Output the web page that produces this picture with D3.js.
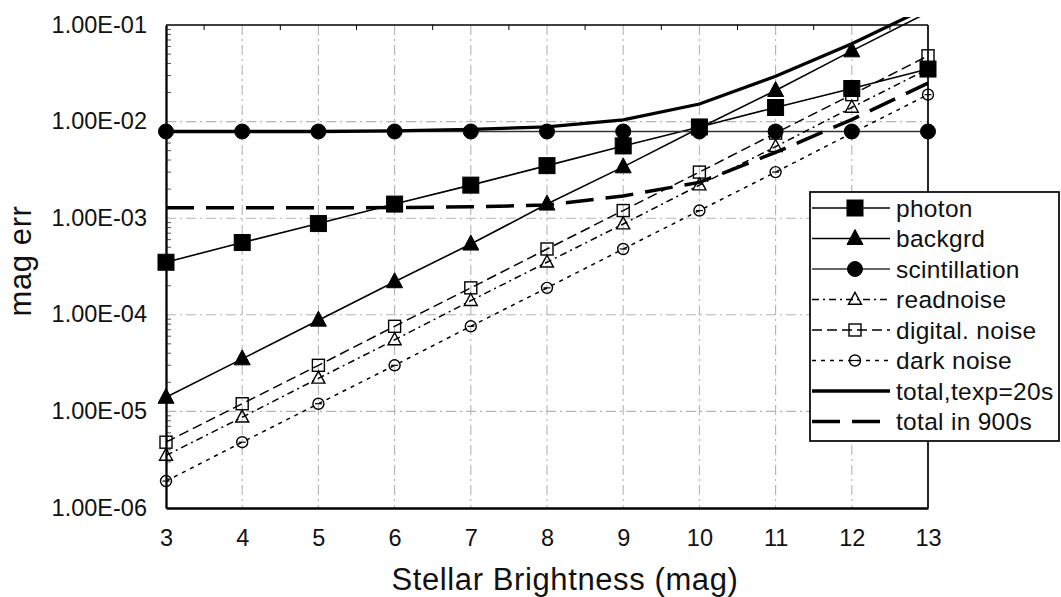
<!DOCTYPE html>
<html>
<head>
<meta charset="utf-8">
<script src="https://cdn.jsdelivr.net/npm/d3@7"></script>
<style>
  html, body { margin: 0; padding: 0; background: #fff; }
  svg { display: block; font-family: "Liberation Sans", Arial, Helvetica, sans-serif; }
</style>
</head>
<body>
<svg id="chart" width="1061" height="597"></svg>
<script>
// Stellar magnitude on the x axis
const mags = [3, 4, 5, 6, 7, 8, 9, 10, 11, 12, 13];

// Magnitude error contributions per noise source
const photon        = [3.5e-4, 5.6e-4, 8.8e-4, 1.4e-3, 2.2e-3, 3.5e-3, 5.6e-3, 8.8e-3, 1.4e-2, 2.2e-2, 3.5e-2];
const backgrd       = [1.4e-5, 3.5e-5, 8.8e-5, 2.2e-4, 5.4e-4, 1.4e-3, 3.4e-3, 8.6e-3, 2.1e-2, 5.4e-2, 1.35e-1];
const scintillation = [7.9e-3, 7.9e-3, 7.9e-3, 7.9e-3, 7.9e-3, 7.9e-3, 7.9e-3, 7.9e-3, 7.9e-3, 7.9e-3, 7.9e-3];
const readnoise     = [3.5e-6, 8.7e-6, 2.2e-5, 5.5e-5, 1.4e-4, 3.5e-4, 8.7e-4, 2.2e-3, 5.5e-3, 1.4e-2, 3.5e-2];
const digitalNoise  = [4.8e-6, 1.2e-5, 3.0e-5, 7.6e-5, 1.9e-4, 4.8e-4, 1.2e-3, 3.0e-3, 7.6e-3, 1.9e-2, 4.8e-2];
const darkNoise     = [1.9e-6, 4.8e-6, 1.2e-5, 3.0e-5, 7.6e-5, 1.9e-4, 4.8e-4, 1.2e-3, 3.0e-3, 7.6e-3, 1.9e-2];
const total20s      = [7.9e-3, 7.9e-3, 7.9e-3, 8.0e-3, 8.3e-3, 8.8e-3, 1.04e-2, 1.52e-2, 2.95e-2, 6.4e-2, 1.53e-1];
const total900s     = [1.28e-3, 1.28e-3, 1.28e-3, 1.29e-3, 1.31e-3, 1.37e-3, 1.7e-3, 2.35e-3, 4.8e-3, 1.05e-2, 2.5e-2];

// Axis tick labels
const yTickValues = [1e-6, 1e-5, 1e-4, 1e-3, 1e-2, 1e-1];
const yTickLabels = ["1.00E-06", "1.00E-05", "1.00E-04", "1.00E-03", "1.00E-02", "1.00E-01"];
const xTickLabels = ["3", "4", "5", "6", "7", "8", "9", "10", "11", "12", "13"];

const seriesNames = ["photon", "backgrd", "scintillation", "readnoise", "digital. noise",
                     "dark noise", "total,texp=20s", "total in 900s"];

// Build the series table
const series = [
  { name: seriesNames[0], values: photon,        marker: "square",   fill: true,  stroke: "#000", width: 1.6, dash: null },
  { name: seriesNames[1], values: backgrd,       marker: "triangle", fill: true,  stroke: "#000", width: 1.6, dash: null },
  { name: seriesNames[2], values: scintillation, marker: "circle",   fill: true,  stroke: "#333", width: 1.6, dash: null },
  { name: seriesNames[3], values: readnoise,     marker: "triangle", fill: false, stroke: "#000", width: 1.5, dash: "7,4,2,4" },
  { name: seriesNames[4], values: digitalNoise,  marker: "square",   fill: false, stroke: "#000", width: 1.5, dash: "10,5" },
  { name: seriesNames[5], values: darkNoise,     marker: "circle",   fill: false, stroke: "#000", width: 1.5, dash: "4,5" },
  { name: seriesNames[6], values: total20s,      marker: null,       fill: false, stroke: "#000", width: 3.3, dash: null },
  { name: seriesNames[7], values: total900s,     marker: null,       fill: false, stroke: "#000", width: 3.5, dash: "28,12" }
];

const textColor = "#111";
const svg = d3.select("#chart");
const plot = { left: 166, right: 928, top: 25, bottom: 508 };

const x = d3.scaleLinear().domain([3, 13]).range([plot.left, plot.right]);
const y = d3.scaleLog().domain([1e-6, 1e-1]).range([plot.bottom, plot.top]);

// Grid lines (dash-dot, light grey)
const grid = svg.append("g").attr("stroke", "#b4b4b4").attr("stroke-width", 1.1)
  .attr("stroke-dasharray", "10,4,2,4").attr("fill", "none");
grid.selectAll("line.v").data(mags.slice(1, -1)).join("line")
  .attr("x1", d => x(d)).attr("x2", d => x(d))
  .attr("y1", plot.top).attr("y2", plot.bottom);
grid.selectAll("line.h").data(yTickValues.slice(1, -1)).join("line")
  .attr("y1", d => y(d)).attr("y2", d => y(d))
  .attr("x1", plot.left).attr("x2", plot.right);

// Frame: top and right borders
svg.append("line").attr("x1", plot.left).attr("x2", plot.right)
  .attr("y1", plot.top).attr("y2", plot.top).attr("stroke", "#000").attr("stroke-width", 1.7);
svg.append("line").attr("x1", plot.right).attr("x2", plot.right)
  .attr("y1", plot.top).attr("y2", plot.bottom).attr("stroke", "#000").attr("stroke-width", 1.7);

// Top border minor ticks at half magnitudes
const halfMags = d3.range(3.5, 13, 1);
svg.append("g").selectAll("line").data(halfMags).join("line")
  .attr("x1", d => x(d)).attr("x2", d => x(d))
  .attr("y1", plot.top).attr("y2", plot.top + 5)
  .attr("stroke", "#000").attr("stroke-width", 1);

// Y axis (log) with inward minor ticks
const minorY = [];
for (let e = -6; e < -1 + 0.5; e++) {
  for (let k = 2; k <= 9; k++) {
    const v = k * Math.pow(10, e);
    if (v < 1e-1) minorY.push(v);
  }
}
svg.append("g").selectAll("line").data(minorY).join("line")
  .attr("x1", plot.left).attr("x2", plot.left + 5)
  .attr("y1", d => y(d)).attr("y2", d => y(d))
  .attr("stroke", "#555").attr("stroke-width", 1);

const yAxis = d3.axisLeft(y).tickValues(yTickValues)
  .tickFormat((d, i) => yTickLabels[i]).tickSize(0).tickPadding(19);
const yG = svg.append("g").attr("transform", `translate(${plot.left},0)`).call(yAxis);
yG.select(".domain").attr("stroke", "#000").attr("stroke-width", 2.3);
yG.selectAll("text").attr("font-size", 23.5).attr("fill", textColor)
  .attr("font-family", "'Liberation Sans', Arial, sans-serif").attr("dy", "0.3em");

// X axis
const xAxis = d3.axisBottom(x).tickValues(mags)
  .tickFormat((d, i) => xTickLabels[i]).tickSize(0).tickPadding(21);
const xG = svg.append("g").attr("transform", `translate(0,${plot.bottom})`).call(xAxis);
xG.select(".domain").attr("stroke", "#000").attr("stroke-width", 2.3);
xG.selectAll("text").attr("font-size", 23.5).attr("fill", textColor)
  .attr("font-family", "'Liberation Sans', Arial, sans-serif");

// Axis titles
svg.append("text").attr("x", 565).attr("y", 590).attr("text-anchor", "middle")
  .attr("font-size", 31).attr("letter-spacing", 0.6).attr("fill", textColor)
  .text("Stellar Brightness (mag)");
svg.append("text").attr("transform", "translate(31,261) rotate(-90)")
  .attr("text-anchor", "middle").attr("font-size", 31).attr("letter-spacing", 0.6)
  .attr("fill", textColor).text("mag err");

// Clip for lines leaving the top of the plot
svg.append("clipPath").attr("id", "plotClip").append("rect")
  .attr("x", plot.left - 2).attr("y", plot.top - 8)
  .attr("width", plot.right - plot.left + 4).attr("height", plot.bottom - plot.top + 10);

const line = d3.line().x((d, i) => x(mags[i])).y(d => y(d));

const lines = svg.append("g").attr("clip-path", "url(#plotClip)");
lines.selectAll("path").data(series).join("path")
  .attr("d", s => line(s.values))
  .attr("fill", "none")
  .attr("stroke", s => s.stroke)
  .attr("stroke-width", s => s.width)
  .attr("stroke-dasharray", s => s.dash);

// Marker drawing
function drawMarker(g, type, filled, cx, cy) {
  if (type === "square") {
    const s = filled ? 16 : 12;
    g.append("rect").attr("x", cx - s / 2).attr("y", cy - s / 2).attr("width", s).attr("height", s)
      .attr("fill", filled ? "#000" : "none").attr("stroke", "#000").attr("stroke-width", filled ? 1 : 1.4);
  } else if (type === "triangle") {
    const w = filled ? 16 : 13, h = filled ? 15 : 12;
    const pts = [[cx, cy - h * 0.6], [cx + w / 2, cy + h * 0.4], [cx - w / 2, cy + h * 0.4]];
    g.append("path").attr("d", "M" + pts.map(p => p.join(",")).join("L") + "Z")
      .attr("fill", filled ? "#000" : "none").attr("stroke", "#000").attr("stroke-width", filled ? 1 : 1.4);
  } else if (type === "circle") {
    const r = filled ? 7.5 : 5.5;
    g.append("circle").attr("cx", cx).attr("cy", cy).attr("r", r)
      .attr("fill", filled ? "#000" : "none").attr("stroke", "#000").attr("stroke-width", filled ? 1 : 1.4);
    if (!filled) {
      g.append("line").attr("x1", cx - 3.5).attr("x2", cx + 3.5).attr("y1", cy).attr("y2", cy)
        .attr("stroke", "#000").attr("stroke-width", 1.2);
    }
  }
}

const markers = svg.append("g");
series.filter(s => s.marker).forEach(s => {
  s.values.forEach((v, i) => {
    if (v <= 1e-1) drawMarker(markers, s.marker, s.fill, x(mags[i]), y(v));
  });
});

// Legend
const legend = { x: 810, y: 192, w: 249, h: 249, rowTop: 208, rowStep: 30.5 };
const lg = svg.append("g");
lg.append("rect").attr("x", legend.x).attr("y", legend.y).attr("width", legend.w).attr("height", legend.h)
  .attr("fill", "#fff").attr("stroke", "#000").attr("stroke-width", 1.7);
series.forEach((s, i) => {
  const cy = legend.rowTop + i * legend.rowStep;
  lg.append("line").attr("x1", legend.x + 2).attr("x2", 890).attr("y1", cy).attr("y2", cy)
    .attr("stroke", s.stroke).attr("stroke-width", s.width).attr("stroke-dasharray", s.dash);
  if (s.marker) drawMarker(lg, s.marker, s.fill, 855, cy);
  lg.append("text").attr("x", 896).attr("y", cy).attr("dy", "0.35em")
    .attr("font-size", 24.5).attr("letter-spacing", 0.3).attr("fill", textColor).text(s.name);
});
</script>
</body>
</html>
